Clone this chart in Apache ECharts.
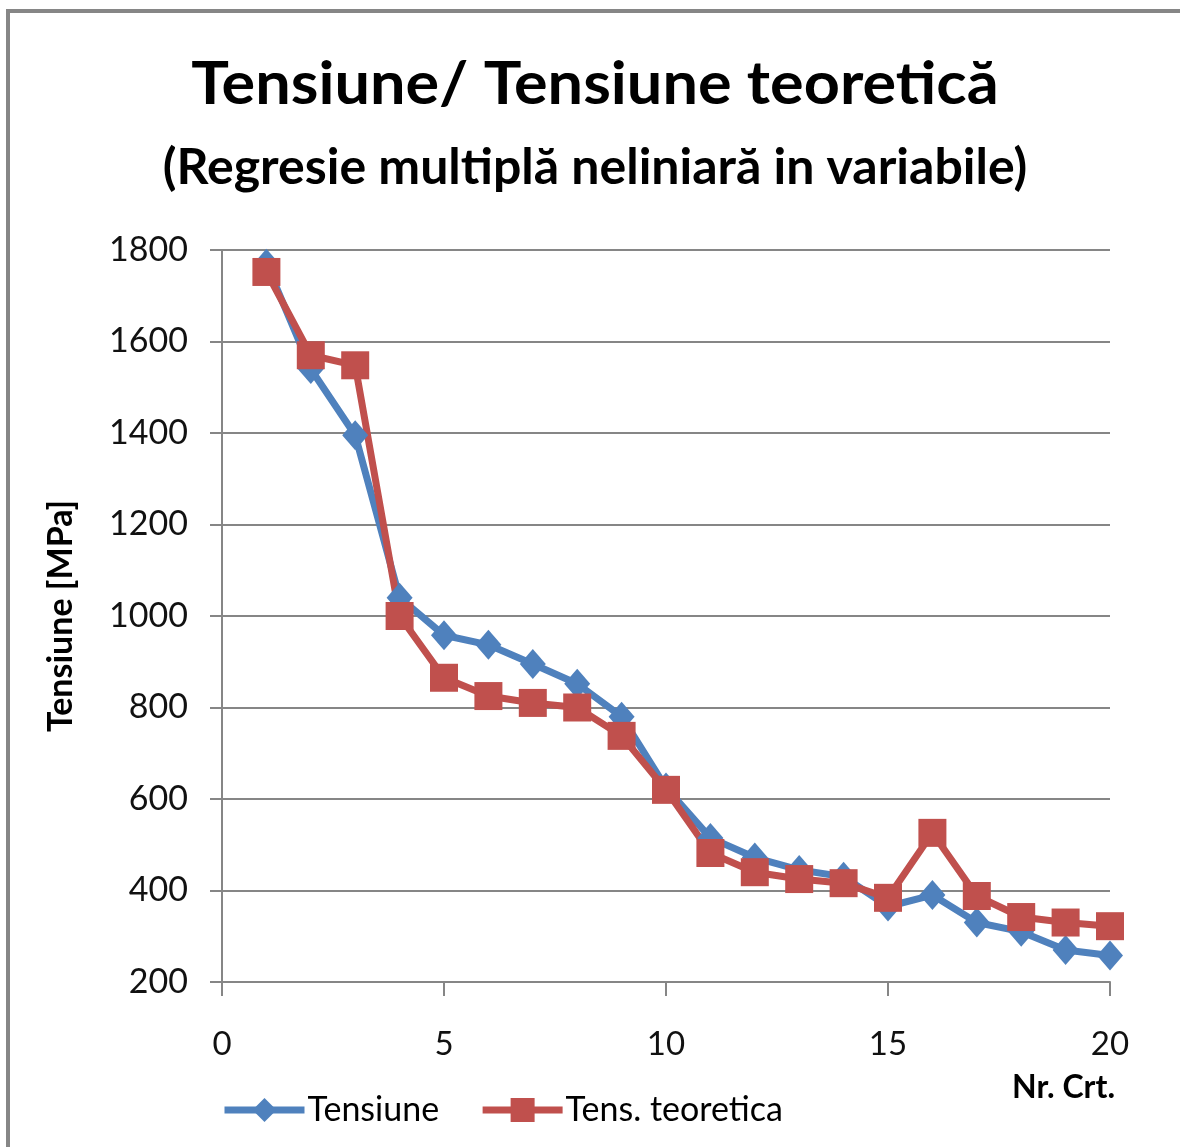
<!DOCTYPE html>
<html><head><meta charset="utf-8">
<script src="https://cdn.jsdelivr.net/npm/echarts@6/dist/echarts.min.js"></script>
<style>html,body{margin:0;padding:0;background:#fff}#c{width:1180px;height:1147px}</style>
</head><body><div id="c"></div>
<script>
const nrCrt = [1,2,3,4,5,6,7,8,9,10,11,12,13,14,15,16,17,18,19,20];
const tensiune = [1770,1540,1395,1040,958,937,895,852,780,625,515,472,445,430,365,390,330,310,270,258];
const tensTeoretica = [1752,1570,1548,1000,865,825,810,800,738,620,482,440,425,416,384,526,388,342,330,322];
const yTicks = [200,400,600,800,1000,1200,1400,1600,1800];
const xTicks = [0,5,10,15,20];
const FONT = 'Lato';
const chart = echarts.init(document.getElementById('c'));
chart.setOption({
  animation:false,
  backgroundColor:'#fff',
  graphic:[
    {type:'rect',shape:{x:8,y:11,width:1200,height:1200},style:{fill:'none',stroke:'#868686',lineWidth:4}},
    {type:'text',x:595,y:85,scaleX:1.05,style:{text:'Tensiune/ Tensiune teoretică',font:'bold 60px '+FONT,fill:'#000',align:'center',verticalAlign:'middle'}},
    {type:'text',x:595,y:168,style:{text:'(Regresie multiplă neliniară in variabile)',font:'bold 50px '+FONT,fill:'#000',align:'center',verticalAlign:'middle'}},
    {type:'text',x:1115,y:1088,style:{text:'Nr. Crt.',font:'bold 32px '+FONT,fill:'#000',align:'right',verticalAlign:'middle'}}
  ],
  grid:{left:222,right:70,top:250,bottom:165},
  legend:{
    left:216,top:1088,itemGap:40,itemWidth:80,itemHeight:30,
    textStyle:{fontFamily:FONT,fontSize:34,color:'#000',padding:[0,0,0,-2]},
    data:[
      {name:'Tensiune',lineStyle:{width:7}},
      {name:'Tens. teoretica',lineStyle:{width:7}}
    ]
  },
  xAxis:{
    type:'value',min:0,max:20,interval:5,
    axisLine:{show:true,lineStyle:{color:'#868686',width:2}},
    axisTick:{show:true,length:14,lineStyle:{color:'#868686',width:2}},
    axisLabel:{fontFamily:FONT,fontSize:33,color:'#111',margin:46,
      formatter:v=>xTicks.includes(v)?String(v):''},
    splitLine:{show:false}
  },
  yAxis:{
    type:'value',min:200,max:1800,interval:200,
    name:'Tensiune [MPa]',nameLocation:'middle',nameGap:144,
    nameTextStyle:{fontFamily:FONT,fontSize:34,fontWeight:'bold',color:'#000'},
    axisLine:{show:true,lineStyle:{color:'#868686',width:2}},
    axisTick:{show:true,length:12,lineStyle:{color:'#868686',width:2}},
    axisLabel:{fontFamily:FONT,fontSize:34,color:'#111',margin:34,
      formatter:v=>yTicks.includes(v)?String(v):''},
    splitLine:{show:true,lineStyle:{color:'#868686',width:2}}
  },
  series:[
    {name:'Tensiune',type:'line',data:nrCrt.map((x,i)=>[x,tensiune[i]]),
     symbol:'diamond',symbolSize:[26,30],
     itemStyle:{color:'#4F81BD'},lineStyle:{color:'#4F81BD',width:7}},
    {name:'Tens. teoretica',type:'line',data:nrCrt.map((x,i)=>[x,tensTeoretica[i]]),
     symbol:'rect',symbolSize:28,
     itemStyle:{color:'#C0504D'},lineStyle:{color:'#C0504D',width:7}}
  ]
});
</script></body></html>
